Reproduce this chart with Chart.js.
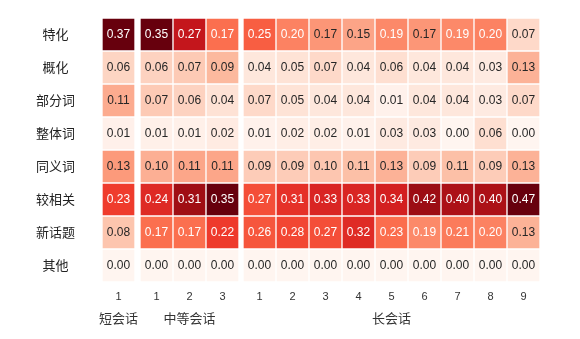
<!DOCTYPE html>
<html>
<head>
<meta charset="utf-8">
<script src="https://cdn.jsdelivr.net/npm/chart.js@4"></script>
<style>
html, body { margin: 0; padding: 0; background: #fff; }
#wrap { position: relative; width: 580px; height: 339px; overflow: hidden; }
#wrap canvas { position: absolute; top: 0; }
</style>
</head>
<body>
<div id="wrap">
  <canvas id="g1" width="140" height="339" style="left:0"></canvas>
  <canvas id="g2" width="104" height="339" style="left:138px"></canvas>
  <canvas id="g3" width="304" height="339" style="left:241px"></canvas>
</div>
<script>
// row names (relation types)
const rowNames = ['特化', '概化', '部分词', '整体词', '同义词', '较相关', '新话题', '其他'];

// column ids per group
const shortCols = ['1'];
const mediumCols = ['1', '2', '3'];
const longCols = ['1', '2', '3', '4', '5', '6', '7', '8', '9'];

// proportions, one array per row
const shortVals = [
    [0.37], [0.06], [0.11], [0.01], [0.13], [0.23], [0.08], [0.00]
];
const mediumVals = [
    [0.35, 0.27, 0.17],
    [0.06, 0.07, 0.09],
    [0.07, 0.06, 0.04],
    [0.01, 0.01, 0.02],
    [0.10, 0.11, 0.11],
    [0.24, 0.31, 0.35],
    [0.17, 0.17, 0.22],
    [0.00, 0.00, 0.00]
];
const longVals = [
    [0.25, 0.20, 0.17, 0.15, 0.19, 0.17, 0.19, 0.20, 0.07],
    [0.04, 0.05, 0.07, 0.04, 0.06, 0.04, 0.04, 0.03, 0.13],
    [0.07, 0.05, 0.04, 0.04, 0.01, 0.04, 0.04, 0.03, 0.07],
    [0.01, 0.02, 0.02, 0.01, 0.03, 0.03, 0.00, 0.06, 0.00],
    [0.09, 0.09, 0.10, 0.11, 0.13, 0.09, 0.11, 0.09, 0.13],
    [0.27, 0.31, 0.33, 0.33, 0.34, 0.42, 0.40, 0.40, 0.47],
    [0.26, 0.28, 0.27, 0.32, 0.23, 0.19, 0.21, 0.20, 0.13],
    [0.00, 0.00, 0.00, 0.00, 0.00, 0.00, 0.00, 0.00, 0.00]
];

// sequential red palette
const reds = ['#fff5f0', '#fee0d2', '#fcbba1', '#fc9272', '#fb6a4a', '#ef3b2c', '#cb181d', '#a50f15', '#67000d'];

function hexToRgb(h) {
    return [parseInt(h.slice(1, 3), 16), parseInt(h.slice(3, 5), 16), parseInt(h.slice(5, 7), 16)];
}

function redAt(t) {
    t = Math.max(0, Math.min(1, t));
    const pos = t * (reds.length - 1);
    const i = Math.min(Math.floor(pos), reds.length - 2);
    const f = pos - i;
    const a = hexToRgb(reds[i]), b = hexToRgb(reds[i + 1]);
    return a.map((c, k) => Math.round(c + (b[k] - c) * f));
}

function luminance(rgb) {
    const lin = rgb.map(c => {
        c = c / 255;
        return c <= 0.03928 ? c / 12.92 : Math.pow((c + 0.055) / 1.055, 2.4);
    });
    return 0.2126 * lin[0] + 0.7152 * lin[1] + 0.0722 * lin[2];
}

// writes the value in the middle of every cell
const cellText = {
    id: 'cellText',
    afterDatasetsDraw(chart, args, opts) {
        const ctx = chart.ctx;
        ctx.save();
        ctx.font = '12px "Liberation Sans", Arial, sans-serif';
        ctx.textAlign = 'center';
        ctx.textBaseline = 'middle';
        chart.data.datasets.forEach((ds, r) => {
            chart.getDatasetMeta(r).data.forEach((bar, c) => {
                const v = opts.values[r][c];
                const rgb = redAt(v / opts.vmax);
                ctx.fillStyle = luminance(rgb) > 0.408 ? '#262626' : '#ffffff';
                ctx.fillText(v.toFixed(2), bar.x, (bar.y + bar.base) / 2 + 0.5);
            });
        });
        ctx.restore();
    }
};

// group caption under the column numbers
const groupTitle = {
    id: 'groupTitle',
    afterDraw(chart, args, opts) {
        const ctx = chart.ctx;
        const a = chart.chartArea;
        ctx.save();
        ctx.font = '13px "Noto Sans CJK SC", sans-serif';
        ctx.fillStyle = '#333';
        ctx.textAlign = 'center';
        ctx.textBaseline = 'middle';
        ctx.fillText(opts.text, (a.left + a.right) / 2, 318);
        ctx.restore();
    }
};

function drawGroup(canvasId, cols, values, title, showRows, pad) {
    const vmax = Math.max(...values.flat());
    const datasets = rowNames.map((name, r) => ({
        label: name,
        data: cols.map(() => [r, r + 1]),
        backgroundColor: values[r].map(v => 'rgb(' + redAt(v / vmax).join(',') + ')'),
        borderColor: 'rgba(255,255,255,0.55)',
        borderWidth: 1,
        borderSkipped: false,
        grouped: false,
        barPercentage: 1,
        categoryPercentage: 1
    }));

    new Chart(document.getElementById(canvasId), {
        type: 'bar',
        data: { labels: cols, datasets: datasets },
        plugins: [cellText, groupTitle],
        options: {
            responsive: false,
            animation: false,
            layout: { padding: { top: 18, bottom: 0, left: pad[0], right: pad[1] } },
            plugins: {
                legend: { display: false },
                tooltip: { enabled: false },
                cellText: { values: values, vmax: vmax },
                groupTitle: { text: title }
            },
            scales: {
                x: {
                    grid: { display: false, drawTicks: false },
                    border: { display: false },
                    ticks: {
                        padding: 8,
                        color: '#333',
                        font: { family: 'Liberation Sans', size: 11 }
                    },
                    afterFit: s => {
                        s.height = 57;
                        s.paddingLeft = 0;
                        s.paddingRight = 0;
                    }
                },
                y: {
                    display: showRows,
                    type: 'linear',
                    reverse: true,
                    min: 0,
                    max: rowNames.length,
                    grid: { display: false, drawTicks: false },
                    border: { display: false },
                    afterBuildTicks: s => { s.ticks = rowNames.map((_, i) => ({ value: i + 0.5 })); },
                    afterFit: s => {
                        if (showRows) s.width = 102;
                        s.paddingTop = 0;
                        s.paddingBottom = 0;
                    },
                    ticks: {
                        padding: 27,
                        crossAlign: 'center',
                        color: '#222',
                        font: { family: 'Noto Sans CJK SC', size: 13 },
                        callback: (v, i) => rowNames[i]
                    }
                }
            }
        }
    });
}

drawGroup('g1', shortCols, shortVals, '短会话', true, [0, 5]);
drawGroup('g2', mediumCols, mediumVals, '中等会话', false, [2, 3]);
drawGroup('g3', longCols, longVals, '长会话', false, [2, 5]);
</script>
</body>
</html>
